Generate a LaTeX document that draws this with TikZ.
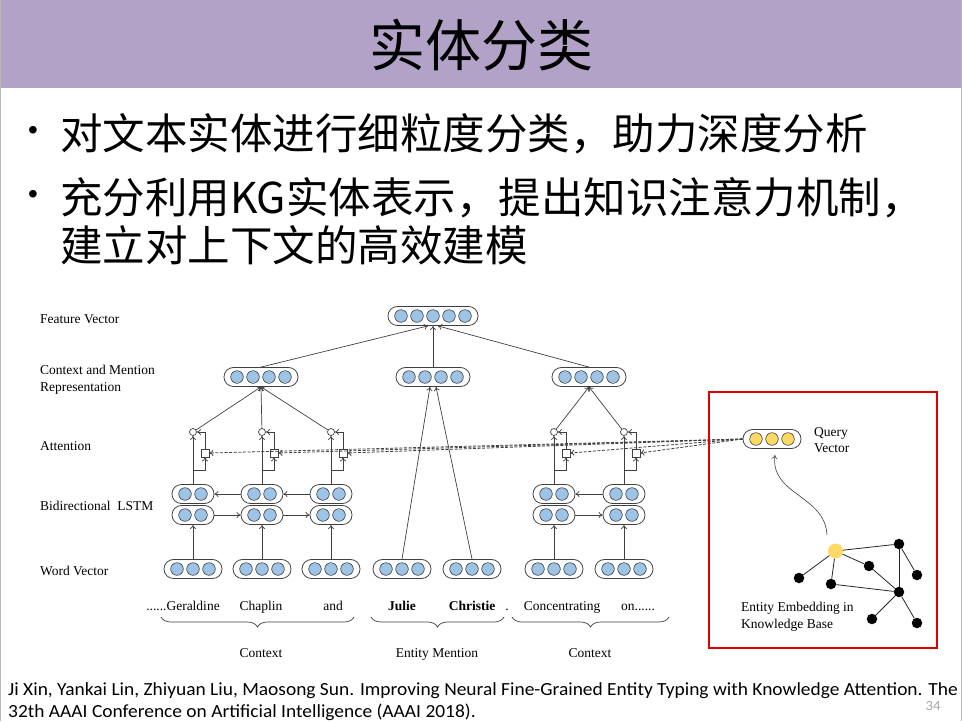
\documentclass[tikz,border=0pt]{standalone}
\usepackage{fontspec}
\setmainfont{Liberation Serif}
\newfontfamily\cjk{Noto Sans CJK SC}
\newfontfamily\ftfont[FakeStretch=1.05]{Carlito}
\newfontfamily\blt{Liberation Sans}
\usetikzlibrary{calc,arrows.meta,decorations.pathreplacing}
\definecolor{titlebar}{HTML}{B2A2C7}
\definecolor{vblue}{HTML}{9DC3E6}
\definecolor{vgold}{HTML}{FFD966}
\definecolor{boxred}{HTML}{E30000}
\definecolor{lineg}{HTML}{404040}
\tikzset{
  capsulebox/.style={draw=lineg, line width=0.8pt, rectangle, rounded corners=9.4pt, minimum height=19pt, inner sep=0pt, fill=white},
  cell/.style={draw=lineg, line width=0.6pt},
  attc/.style={circle, draw=lineg, line width=0.7pt, fill=white, minimum size=7pt, inner sep=0pt},
  atts/.style={rectangle, draw=lineg, line width=0.7pt, fill=white, minimum size=8pt, inner sep=0pt},
  arr/.style={draw=lineg, line width=0.7pt, -{To[length=4pt,width=6pt]}},
  dsh/.style={draw=lineg, line width=0.8pt, dash pattern=on 3pt off 1.6pt, -{To[length=4pt,width=6pt]}},
  lbl/.style={font=\fontsize{13.5}{16.5}\selectfont, anchor=west, inner sep=0pt, align=left},
  wrd/.style={font=\fontsize{13.5}{16}\selectfont, anchor=base, inner sep=0pt},
  kn/.style={circle, fill=black, minimum size=10.5pt, inner sep=0pt},
  ky/.style={circle, fill=vgold, minimum size=15pt, inner sep=0pt},
  kedge/.style={draw=black!85, line width=0.8pt},
  brc/.style={draw=lineg, line width=0.7pt, decorate, decoration={brace, amplitude=10pt, mirror}},
}
\newcommand\capsule[5]{%
  \pgfmathsetmacro\capw{16*#4+10}%
  \node[capsulebox, minimum width=\capw pt] (#1) at (#2,#3) {};
  \foreach \i in {1,...,#4} {\draw[cell,fill=#5] ($(#1.center)+({16*(\i-(#4+1)/2)},0)$) circle (6.3);}
}
\newcommand\attcol[2]{%
  \capsule{w#1}{#2}{569}{3}{vblue}
  \capsule{l#1}{#2}{515}{2}{vblue}
  \capsule{u#1}{#2}{494}{2}{vblue}
  \node[attc] (c#1) at (#2,432) {};
  \node[atts] (s#1) at ({#2+12},453) {};
  \coordinate (b#1) at (#2,470);
  \draw[arr] (w#1.north) -- (l#1.south);
  \draw[arr] (u#1.north) -- (c#1.south);
  \draw[arr] (b#1) -| (s#1.south);
  \draw[arr] (s#1.north) |- (c#1.east);
}
\begin{document}
\begin{tikzpicture}[x=1pt,y=-1pt]
\useasboundingbox (0,0) rectangle (962,721);
\fill[white] (0,0) rectangle (962,721);
\fill[titlebar] (0,0) rectangle (962,88);
\draw[gray!55, line width=1pt] (0.5,0) -- (0.5,721);
\draw[gray!55, line width=1pt] (961.5,0) -- (961.5,721);
\node[font=\cjk\fontsize{56}{60}\selectfont, inner sep=0pt] (title) at (481,45) {实体分类};

% bullets
\node[font=\blt\fontsize{28}{28}\selectfont, inner sep=0pt] (d1) at (33,133) {•};
\node[font=\blt\fontsize{28}{28}\selectfont, inner sep=0pt] (d2) at (33,197) {•};
\node[anchor=base west, inner sep=0pt, font=\cjk\fontsize{42.5}{50}\selectfont] (t1) at (60,149) {对文本实体进行细粒度分类，助力深度分析};
\node[anchor=base west, inner sep=0pt, font=\cjk\fontsize{42.5}{50}\selectfont] (t2) at (60,213) {充分利用KG实体表示，提出知识注意力机制，};
\node[anchor=base west, inner sep=0pt, font=\cjk\fontsize{42.5}{50}\selectfont] (t3) at (60,261) {建立对上下文的高效建模};

% left labels
\node[lbl] (L1) at (40,319) {Feature Vector};
\node[lbl] (L2) at (40,379.5) {Context and Mention\\Representation};
\node[lbl] (L3) at (40,446) {Attention};
\node[lbl] (L4) at (40,506) {Bidirectional\ \ LSTM};
\node[lbl] (L5) at (40,571) {Word Vector};

% top capsules
\capsule{fv}{433}{316}{5}{vblue}
\capsule{r1}{261}{377}{4}{vblue}
\capsule{r2}{433}{377}{4}{vblue}
\capsule{r3}{589}{377}{4}{vblue}
\draw[arr] (r1.north) -- ($(fv.south)+(-5,0)$);
\draw[arr] (r2.north) -- (fv.south);
\draw[arr] (r3.north) -- ($(fv.south)+(5,0)$);

% query vector
\capsule{q}{772}{439}{3}{vgold}

% columns
\attcol{1}{193}
\attcol{2}{262}
\attcol{3}{331}
\attcol{6}{554}
\attcol{7}{624}
\capsule{w4}{402}{569}{3}{vblue}
\capsule{w5}{472}{569}{3}{vblue}

\foreach \k in {1,2,3,6,7} {\draw[dsh] (q.west) -- (s\k.east);}

% LSTM recurrent arrows
\draw[arr] (l1.east) -- (l2.west);
\draw[arr] (l2.east) -- (l3.west);
\draw[arr] (u2.west) -- (u1.east);
\draw[arr] (u3.west) -- (u2.east);
\draw[arr] (l6.east) -- (l7.west);
\draw[arr] (u7.west) -- (u6.east);

% to representations
\draw[arr] (c1) -- (r1.south);
\draw[arr] (c2) -- (r1.south);
\draw[arr] (c3) -- (r1.south);
\draw[arr] (w4.north) -- ($(r2.south)+(-3,0)$);
\draw[arr] (w5.north) -- ($(r2.south)+(3,0)$);
\draw[arr] (c6) -- (r3.south);
\draw[arr] (c7) -- (r3.south);

% words
\node[wrd] (g1) at (183,610) {......Geraldine};
\node[wrd] (g2) at (261,610) {Chaplin};
\node[wrd] (g3) at (333,610) {and};
\node[wrd, font=\bfseries\fontsize{13.5}{16}\selectfont] (g4) at (402,610) {Julie};
\node[wrd, font=\bfseries\fontsize{13.5}{16}\selectfont] (g5) at (472,610) {Christie};
\node[wrd] (g6) at (507,610) {.};
\node[wrd] (g7) at (562,610) {Concentrating};
\node[wrd] (g8) at (638,610) {on......};

\draw[brc] (161,617) -- (354,617);
\draw[brc] (371,617) -- (504,617);
\draw[brc] (512,617) -- (669,617);
\node[wrd] (k1) at (261,657) {Context};
\node[wrd] (k2) at (437,657) {Entity Mention};
\node[wrd] (k3) at (590,657) {Context};

% knowledge base box
\draw[boxred, line width=2.6pt] (709,392) rectangle (937,648);
\node[lbl, anchor=north west] (qlab) at (814,427) {Query\\Vector};
\node[ky] (ky) at (835.5,551) {};
\node[kn] (nA) at (899,544) {};
\node[kn] (nB) at (869,566) {};
\node[kn] (nC) at (917,575) {};
\node[kn] (nD) at (799,578) {};
\node[kn] (nE) at (831,584) {};
\node[kn] (nF) at (899,592) {};
\node[kn] (nG) at (872,619) {};
\node[kn] (nH) at (917,623) {};
\draw[kedge] (ky) -- (nA);
\draw[kedge] (ky) -- (nB);
\draw[kedge] (ky) -- (nD);
\draw[kedge] (ky) -- (nE);
\draw[kedge] (nA) -- (nC);
\draw[kedge] (nA) -- (nF);
\draw[kedge] (nB) -- (nF);
\draw[kedge] (nE) -- (nF);
\draw[kedge] (nF) -- (nG);
\draw[kedge] (nF) -- (nH);
\coordinate (kstart) at (827,535);
\coordinate (qend) at (775,455);
\draw[arr, line width=0.6pt] (kstart) .. controls (825,495) and (770,495) .. (qend);
\node[lbl] (elab) at (741,617) {Entity Embedding in\\Knowledge Base};

% footer
\node[anchor=base west, inner sep=0pt, font=\ftfont\fontsize{18.5}{22}\selectfont] (f1) at (8,695) {Ji Xin, Yankai Lin, Zhiyuan Liu, Maosong Sun. Improving Neural Fine-Grained Entity Typing with Knowledge Attention. The};
\node[anchor=base west, inner sep=0pt, font=\ftfont\fontsize{18.5}{22}\selectfont] (f2) at (8,717) {32th AAAI Conference on Artificial Intelligence (AAAI 2018).};
\node[text=gray!70, font=\ftfont\fontsize{14}{16}\selectfont, inner sep=0pt] (pg) at (933,706) {34};
\end{tikzpicture}
\end{document}
